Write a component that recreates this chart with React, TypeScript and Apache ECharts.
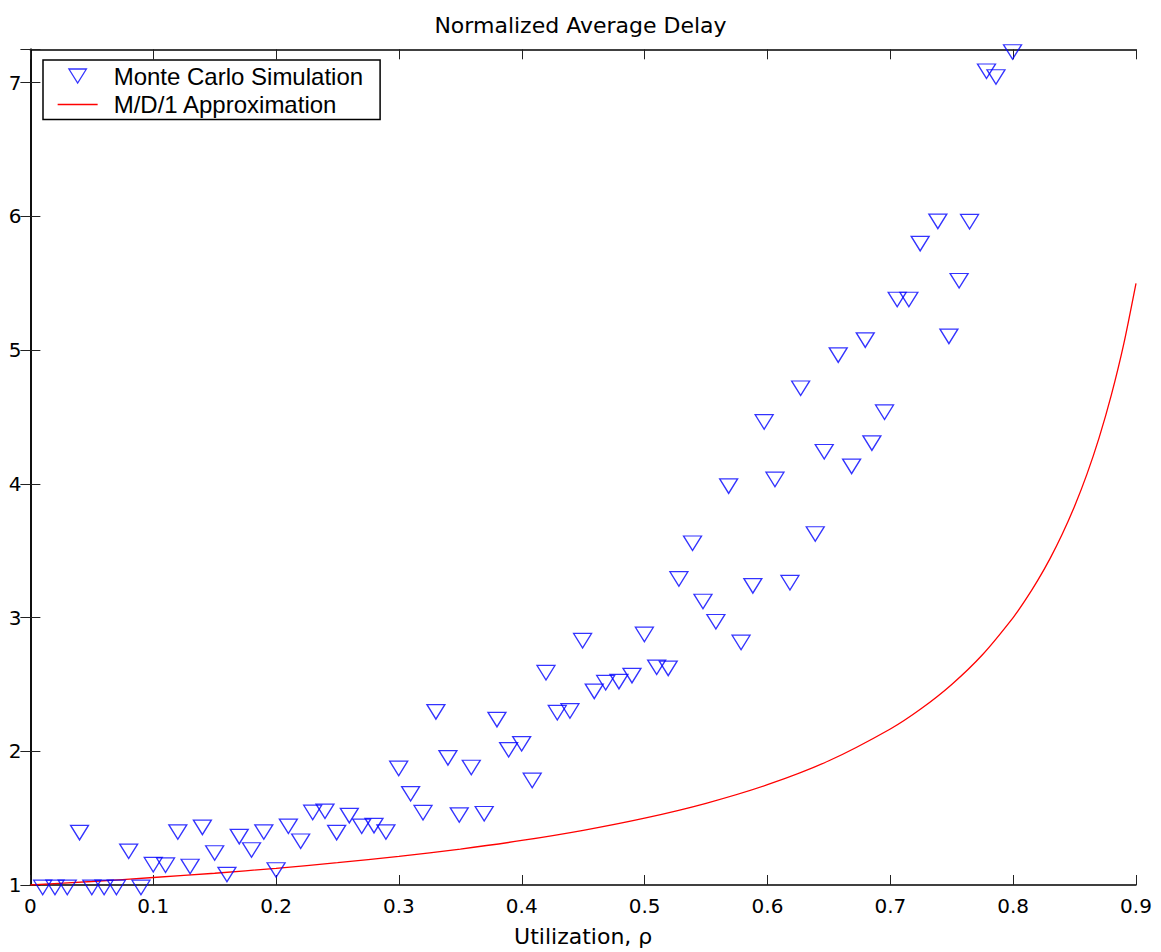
import React, { useEffect, useRef } from 'react';
import * as echarts from 'echarts';

// Monte Carlo simulation points (utilization, normalized delay)
const mcRho = [
  0.01, 0.02, 0.03, 0.04, 0.05, 0.06, 0.07, 0.08, 0.09,
  0.10, 0.11, 0.12, 0.13, 0.14, 0.15, 0.16, 0.17, 0.18, 0.19,
  0.20, 0.21, 0.22, 0.2298, 0.2398, 0.2493, 0.2596, 0.2697, 0.2797, 0.2894,
  0.2998, 0.3095, 0.3196, 0.3301, 0.3399, 0.3491, 0.3589, 0.3694, 0.3798, 0.3893,
  0.3999, 0.4085, 0.4197, 0.4289, 0.4392, 0.4495, 0.459, 0.4683, 0.4791, 0.4897,
  0.4998, 0.5098, 0.5192, 0.5279, 0.539, 0.5475, 0.558, 0.5684, 0.5785, 0.5881,
  0.5973, 0.6061, 0.6183, 0.627, 0.6389, 0.6462, 0.6576, 0.6685, 0.6796, 0.685,
  0.6953, 0.7056, 0.7151, 0.7243, 0.7387, 0.7477, 0.756, 0.7645, 0.7783, 0.786, 0.7995,
];
const mcDelay = [
  1.0, 1.0, 1.0, 1.41, 1.0, 1.0, 1.0, 1.27, 1.0,
  1.17, 1.166, 1.414, 1.156, 1.449, 1.257, 1.096, 1.38, 1.28, 1.414,
  1.13, 1.457, 1.345, 1.561, 1.569, 1.41, 1.537, 1.457, 1.462, 1.414,
  1.89, 1.70, 1.559, 2.313, 1.969, 1.541, 1.897, 1.551, 2.255, 2.029,
  2.074, 1.80, 2.606, 2.307, 2.32, 2.845, 2.466, 2.531, 2.539, 2.584,
  2.892, 2.646, 2.638, 3.307, 3.574, 3.138, 2.987, 4.001, 2.832, 3.255,
  4.481, 4.051, 3.279, 4.733, 3.643, 4.258, 4.981, 4.149, 5.093, 4.323,
  4.554, 5.397, 5.397, 5.815, 5.981, 5.121, 5.537, 5.979, 7.104, 7.061, 7.248,
];

// M/D/1 approximation curve
const md1Rho = [
  0.0, 0.05, 0.1, 0.15, 0.2, 0.25, 0.3, 0.35, 0.4, 0.45, 0.5, 0.55, 0.6, 0.65,
  0.7, 0.725, 0.75, 0.775, 0.8, 0.81, 0.82, 0.83, 0.84, 0.85, 0.86, 0.87, 0.88, 0.89, 0.9,
];
const md1Delay = [
  1.0, 1.026, 1.056, 1.088, 1.125, 1.167, 1.214, 1.269, 1.333, 1.409, 1.5, 1.611, 1.75, 1.929,
  2.167, 2.318, 2.5, 2.722, 3.0, 3.132, 3.278, 3.441, 3.625, 3.833, 4.071, 4.346, 4.667, 5.045, 5.5,
];

const titleText = 'Normalized Average Delay';
const xName = 'Utilization, ρ';
const seriesNames = ['Monte Carlo Simulation', 'M/D/1 Approximation'];

const X_MIN = 0;
const X_MAX = 0.9;
const X_STEP = 0.1;
const Y_MIN = 1;
const Y_MAX = 7.25;
const Y_STEP = 1;

const TRI = 'path://M0,0L20,0L10,16Z';

export default function App() {
  const ref = useRef<HTMLDivElement | null>(null);

  useEffect(() => {
    if (!ref.current) return;
    const chart = echarts.init(ref.current, undefined, { renderer: 'svg' });

    const tickFont = { fontFamily: 'DejaVu Sans', fontSize: 20, color: '#000' };
    const axisLine = { show: true, lineStyle: { color: '#000', width: 1.5 } };
    const axisTick = { show: true, inside: true, length: 10, lineStyle: { color: '#222', width: 1 } };

    const mcData = mcRho.map((r, i) => [r, mcDelay[i]]);
    const lineData = md1Rho.map((r, i) => [r, md1Delay[i]]);

    chart.setOption({
      animation: false,
      backgroundColor: '#fff',
      title: {
        text: titleText,
        left: 'center',
        top: 9,
        textStyle: { fontFamily: 'DejaVu Sans', fontSize: 22, fontWeight: 'normal', color: '#000' },
      },
      legend: {
        orient: 'vertical',
        left: 43,
        top: 60,
        backgroundColor: '#fff',
        borderColor: '#000',
        borderWidth: 1.5,
        borderRadius: 0,
        padding: [4, 17, 3, 14],
        itemGap: 4.5,
        itemWidth: 40,
        itemHeight: 14,
        textStyle: { fontFamily: 'Liberation Sans', fontSize: 24, color: '#000', padding: [0, 0, 0, 11] },
        data: [
          {
            name: seriesNames[0],
            icon: TRI,
            itemStyle: { color: 'rgba(0,0,0,0)', borderColor: '#0000ff', borderWidth: 1.3 },
          },
          {
            name: seriesNames[1],
            itemStyle: { opacity: 0 },
            lineStyle: { color: '#ff0000', width: 1.3, opacity: 1 },
          },
        ],
      },
      grid: { left: 30.4, right: 25, top: 49.3, bottom: 66.3, containLabel: false },
      xAxis: [
        {
          type: 'value',
          position: 'bottom',
          min: X_MIN,
          max: X_MAX,
          interval: X_STEP,
          name: xName,
          nameLocation: 'middle',
          nameGap: 40,
          nameTextStyle: { fontFamily: 'DejaVu Sans', fontSize: 22, color: '#000' },
          axisLine,
          axisTick,
          splitLine: { show: false },
          axisLabel: { ...tickFont, margin: 11 },
        },
        {
          type: 'value',
          position: 'top',
          min: X_MIN,
          max: X_MAX,
          interval: X_STEP,
          axisLine,
          axisTick,
          splitLine: { show: false },
          axisLabel: { show: false },
        },
      ],
      yAxis: [
        {
          type: 'value',
          position: 'left',
          min: Y_MIN,
          max: Y_MAX,
          interval: Y_STEP,
          axisLine,
          axisTick,
          splitLine: { show: false },
          axisLabel: {
            ...tickFont,
            margin: 9,
            formatter: (v: number) => (Number.isInteger(v) ? String(v) : ''),
          },
        },
        {
          type: 'value',
          position: 'right',
          min: Y_MIN,
          max: Y_MAX,
          interval: Y_STEP,
          axisLine,
          axisTick,
          splitLine: { show: false },
          axisLabel: { show: false },
        },
      ],
      series: [
        {
          name: seriesNames[1],
          type: 'line',
          xAxisIndex: 0,
          yAxisIndex: 0,
          data: lineData,
          symbol: 'none',
          showSymbol: false,
          smooth: 0.25,
          lineStyle: { color: '#ff0000', width: 1.3 },
          itemStyle: { color: '#ff0000' },
          z: 2,
        },
        {
          name: seriesNames[0],
          type: 'scatter',
          xAxisIndex: 0,
          yAxisIndex: 0,
          data: mcData,
          symbol: TRI,
          symbolSize: [18, 14.5],
          symbolOffset: [0, 2.4],
          clip: false,
          itemStyle: { color: 'rgba(0,0,0,0)', borderColor: '#0000ff', borderWidth: 1.3 },
          z: 3,
        },
      ],
    });

    return () => {
      chart.dispose();
    };
  }, []);

  return (
    <div
      ref={ref}
      style={{ position: 'absolute', left: 0, top: 0, width: 1161, height: 952, background: '#fff' }}
    />
  );
}
